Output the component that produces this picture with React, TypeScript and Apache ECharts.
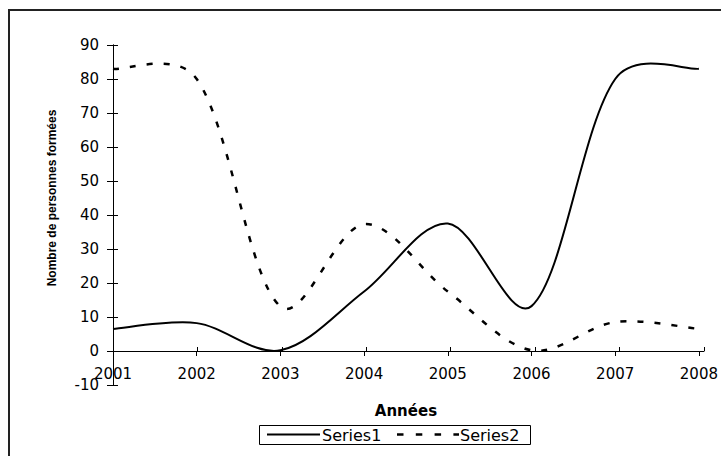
import React, { useEffect, useRef } from "react";
import * as echarts from "echarts";

const years = [2001, 2002, 2003, 2004, 2005, 2006, 2007, 2008];
const series1Values = [6.5, 8.2, 0.2, 17.5, 37.5, 13.2, 80, 83];
const series2Values = [83, 80, 13.1, 37.3, 17.5, 0.2, 8.5, 6.5];
const seriesNames = ["Series1", "Series2"];
const xTitle = "Années";
const yTitle = "Nombre de personnes formées";

const FONT = "'Liberation Sans', Arial, sans-serif";
const WIDE = "'DejaVu Sans', 'Liberation Sans', sans-serif";
const K = 1 / 6; // Excel-like smoothing strength

function smoothRenderer(lineWidth: number, dash: number[] | null) {
  return (params: any, api: any) => {
    if (params.dataIndexInside !== 0) return null;
    const n = params.dataInsideLength;
    const pts: number[][] = [];
    for (let i = 0; i < n; i++) {
      pts.push(api.coord([api.value(0, i), api.value(1, i)]));
    }
    const dist = (a: number[], b: number[]) => Math.hypot(b[0] - a[0], b[1] - a[1]);
    const tan: number[][] = [];
    const fPrev: number[] = [];
    const fNext: number[] = [];
    for (let i = 0; i < n; i++) {
      const pp = pts[Math.max(i - 1, 0)];
      const pn = pts[Math.min(i + 1, n - 1)];
      tan.push([pn[0] - pp[0], pn[1] - pp[1]]);
      if (i === 0 || i === n - 1) {
        fPrev.push(K);
        fNext.push(K);
      } else {
        const dp = dist(pp, pts[i]);
        const dn = dist(pts[i], pn);
        fPrev.push(K * Math.sqrt((2 * dp) / (dp + dn)));
        fNext.push(K * Math.sqrt((2 * dn) / (dp + dn)));
      }
    }
    let d = `M${pts[0][0]},${pts[0][1]}`;
    for (let i = 0; i < n - 1; i++) {
      const p1 = pts[i];
      const p2 = pts[i + 1];
      const c1x = p1[0] + tan[i][0] * fNext[i];
      const c1y = p1[1] + tan[i][1] * fNext[i];
      const c2x = p2[0] - tan[i + 1][0] * fPrev[i + 1];
      const c2y = p2[1] - tan[i + 1][1] * fPrev[i + 1];
      d += ` C${c1x},${c1y} ${c2x},${c2y} ${p2[0]},${p2[1]}`;
    }
    return {
      type: "path",
      shape: { pathData: d },
      style: {
        fill: "none",
        stroke: "#000",
        lineWidth,
        lineDash: dash || undefined,
        lineCap: "butt",
        lineJoin: "round",
      },
      silent: true,
    };
  };
}

export default function App() {
  const ref = useRef<HTMLDivElement>(null);
  useEffect(() => {
    if (!ref.current) return;
    const chart = echarts.init(ref.current, undefined, { renderer: "svg" });
    const pairs = (vals: number[]) => years.map((y, i) => [y, vals[i]]);
    const plotTop = 45;
    const plotBottom = 71;
    const plotH = 456 - plotTop - plotBottom;
    const yMin = -10;
    const yMax = 90;
    const zeroOffset = -((0 - yMin) / (yMax - yMin)) * plotH;
    const gridBox = { left: 113, right: 17, top: plotTop, bottom: plotBottom, containLabel: false };
    const xBase = {
      type: "value",
      min: 2001,
      max: 2008,
      interval: 1,
      position: "bottom",
      offset: zeroOffset,
      splitLine: { show: false },
      axisLine: { onZero: false, lineStyle: { color: "#000", width: 1 } },
    };
    const yBase = {
      type: "value",
      min: yMin,
      max: yMax,
      interval: 10,
      splitLine: { show: false },
      axisLine: { show: true, onZero: false, lineStyle: { color: "#000", width: 1 } },
    };
    const lgX = 259, lgY = 425, lgW = 271, lgH = 19;
    const lgMid = lgY + lgH / 2;
    chart.setOption({
      animation: false,
      backgroundColor: "#fff",
      textStyle: { fontFamily: FONT },
      grid: [gridBox, { ...gridBox }],
      xAxis: [
        {
          ...xBase,
          gridIndex: 0,
          name: xTitle,
          nameLocation: "middle",
          nameGap: 52,
          nameTextStyle: { fontFamily: WIDE, fontSize: 15, fontWeight: "bold", color: "#000" },
          axisTick: { show: true, inside: false, length: 5, lineStyle: { color: "#000" } },
          axisLabel: {
            fontFamily: WIDE,
            fontSize: 15,
            color: "#000",
            margin: 15,
            formatter: (v: number) => String(v),
          },
        },
        {
          ...xBase,
          gridIndex: 1,
          axisTick: { show: true, inside: true, length: 4, lineStyle: { color: "#000" } },
          axisLabel: { show: false },
        },
      ],
      yAxis: [
        {
          ...yBase,
          gridIndex: 0,
          axisTick: { show: true, inside: false, length: 6, lineStyle: { color: "#000" } },
          axisLabel: { fontFamily: WIDE, fontSize: 15, color: "#000", margin: 14 },
        },
        {
          ...yBase,
          gridIndex: 1,
          axisTick: { show: true, inside: true, length: 5, lineStyle: { color: "#000" } },
          axisLabel: { show: false },
        },
      ],
      graphic: [
        {
          type: "rect",
          shape: { x: 9, y: 10, width: 800, height: 600 },
          style: { fill: "none", stroke: "#222", lineWidth: 2 },
          silent: true,
        },
        {
          type: "text",
          x: 52,
          y: 198,
          rotation: Math.PI / 2,
          style: {
            text: yTitle,
            fontFamily: FONT,
            fontSize: 12,
            fontWeight: "bold",
            fill: "#000",
            align: "center",
            verticalAlign: "middle",
          },
        },
        {
          type: "rect",
          shape: { x: lgX + 0.5, y: lgY + 0.5, width: lgW, height: lgH },
          style: { fill: "#fff", stroke: "#000", lineWidth: 1 },
          silent: true,
        },
        {
          type: "line",
          shape: { x1: 267, y1: lgMid, x2: 320, y2: lgMid },
          style: { stroke: "#000", lineWidth: 2 },
          silent: true,
        },
        {
          type: "text",
          x: 322,
          y: lgMid + 0.5,
          style: {
            text: seriesNames[0],
            fontFamily: WIDE,
            fontSize: 16,
            fill: "#000",
            align: "left",
            verticalAlign: "middle",
          },
        },
        {
          type: "line",
          shape: { x1: 397, y1: lgMid, x2: 459, y2: lgMid },
          style: { stroke: "#000", lineWidth: 2.5, lineDash: [6.5, 12.3] },
          silent: true,
        },
        {
          type: "text",
          x: 460,
          y: lgMid + 0.5,
          style: {
            text: seriesNames[1],
            fontFamily: WIDE,
            fontSize: 16,
            fill: "#000",
            align: "left",
            verticalAlign: "middle",
          },
        },
      ],
      series: [
        {
          name: seriesNames[0],
          type: "custom",
          coordinateSystem: "cartesian2d",
          xAxisIndex: 0,
          yAxisIndex: 0,
          encode: { x: 0, y: 1 },
          data: pairs(series1Values),
          renderItem: smoothRenderer(2, null),
          clip: false,
          silent: true,
        },
        {
          name: seriesNames[1],
          type: "custom",
          coordinateSystem: "cartesian2d",
          xAxisIndex: 0,
          yAxisIndex: 0,
          encode: { x: 0, y: 1 },
          data: pairs(series2Values),
          renderItem: smoothRenderer(2.5, [6, 11]),
          clip: false,
          silent: true,
        },
      ],
    });
    return () => chart.dispose();
  }, []);
  return (
    <div
      ref={ref}
      style={{ position: "fixed", left: 0, top: 0, width: 721, height: 456, background: "#fff" }}
    />
  );
}
